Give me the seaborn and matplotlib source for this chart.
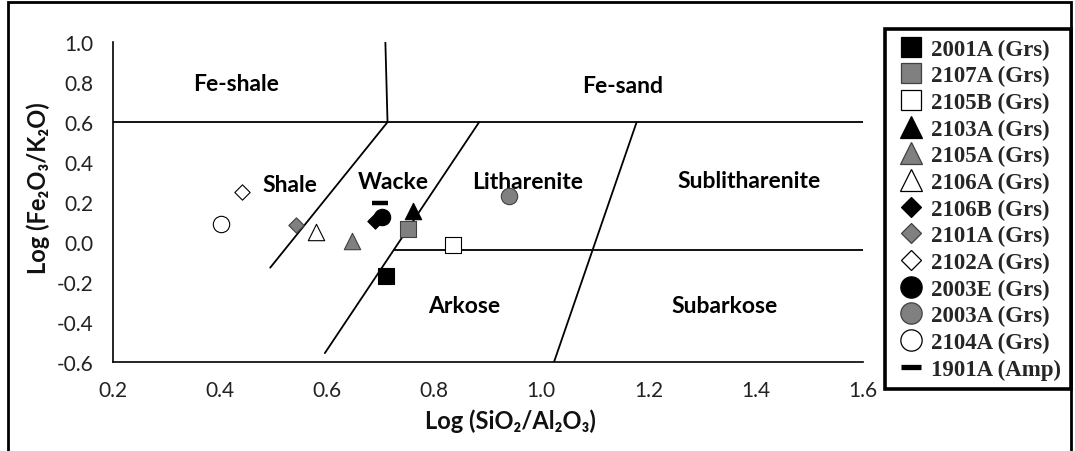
import matplotlib
matplotlib.use("Agg")
import matplotlib.pyplot as plt
import seaborn as sns
from matplotlib.lines import Line2D
from matplotlib.patches import Rectangle

# ---------------- data ----------------
samples = ["2001A (Grs)", "2107A (Grs)", "2105B (Grs)", "2103A (Grs)", "2105A (Grs)",
           "2106A (Grs)", "2106B (Grs)", "2101A (Grs)", "2102A (Grs)", "2003E (Grs)",
           "2003A (Grs)", "2104A (Grs)", "1901A (Amp)"]
log_si_al = [0.711, 0.752, 0.835, 0.761, 0.646, 0.580, 0.690, 0.543, 0.441, 0.702, 0.939, 0.402, 0.699]
log_fe_k = [-0.169, 0.065, -0.014, 0.156, 0.006, 0.051, 0.106, 0.086, 0.248, 0.123, 0.230, 0.090, 0.193]

# classification field boundaries (Herron diagram)
boundary_x = [[0.2, 1.6], [0.709, 0.713], [0.713, 0.494], [0.884, 0.596], [0.725, 1.6], [1.178, 1.024]]
boundary_y = [[0.6, 0.6], [1.0, 0.6], [0.6, -0.129], [0.6, -0.557], [-0.04, -0.04], [0.6, -0.6]]

field_names = ["Fe-shale", "Fe-sand", "Shale", "Wacke", "Litharenite", "Sublitharenite", "Arkose", "Subarkose"]
field_x = [0.430, 1.152, 0.531, 0.724, 0.975, 1.388, 0.856, 1.343]
field_y = [0.796, 0.786, 0.290, 0.302, 0.302, 0.310, -0.320, -0.320]

x_ticks = [0.2, 0.4, 0.6, 0.8, 1.0, 1.2, 1.4, 1.6]
y_ticks = [-0.6, -0.4, -0.2, 0.0, 0.2, 0.4, 0.6, 0.8, 1.0]

# ---------------- styles ----------------
GRAY = "#808080"
marker_style = ["s", "s", "s", "^", "^", "^", "D", "D", "D", "o", "o", "o", "_"]
face_col = ["black", GRAY, "white", "black", GRAY, "white", "black", GRAY, "white", "black", GRAY, "white", "black"]
edge_col = ["black", "#404040", "black", "black", "#404040", "black", "black", "#404040", "black", "black", "#404040", "black", "black"]
msize = {"s": 11.2, "^": 11.8, "D": 7.8, "o": 11.8, "_": 12.0}

sns.set_theme(style="white")
plt.rcParams["font.family"] = ["Lato", "Noto Sans", "DejaVu Sans"]
plt.rcParams["axes.unicode_minus"] = False

fig = plt.figure(figsize=(10.75, 4.52), dpi=100)
ax = fig.add_axes([112.7 / 1075, 1 - 362.7 / 452, 750 / 1075, 319.4 / 452])

for bx, by in zip(boundary_x, boundary_y):
    sns.lineplot(x=bx, y=by, ax=ax, color="black", linewidth=1.3, sort=False, estimator=None)

for i, name in enumerate(samples):
    m = marker_style[i]
    if m == "_":
        sns.scatterplot(x=[log_si_al[i]], y=[log_fe_k[i]], ax=ax, marker=m, s=msize[m] ** 2,
                        color="black", linewidth=3.2, zorder=5)
    else:
        sns.scatterplot(x=[log_si_al[i]], y=[log_fe_k[i]], ax=ax, marker=m, s=msize[m] ** 2,
                        color=face_col[i], edgecolor=edge_col[i], linewidth=0.8, zorder=5)

for name, fx, fy in zip(field_names, field_x, field_y):
    ax.text(fx, fy, name, ha="center", va="center", fontsize=16.5, fontweight="bold", color="black")

ax.set_xlim(0.2, 1.6)
ax.set_ylim(-0.6, 1.0)
ax.set_xticks(x_ticks)
ax.set_yticks(y_ticks)
ax.set_xticklabels([f"{v:.1f}" for v in x_ticks])
ax.set_yticklabels([f"{v:.1f}" for v in y_ticks])
ax.tick_params(axis="both", direction="out", length=5, width=1.2, colors="black",
               labelsize=15, labelcolor="#222222", pad=9)
ax.tick_params(axis="x", pad=8)
for side in ["top", "right"]:
    ax.spines[side].set_visible(False)
for side in ["left", "bottom"]:
    ax.spines[side].set_color("black")
    ax.spines[side].set_linewidth(1.2)

ax.set_xlabel("Log (SiO\u2082/Al\u2082O\u2083)", fontsize=17, fontweight="bold", color="#111111")
ax.set_ylabel("Log (Fe\u2082O\u2083/K\u2082O)", fontsize=17, fontweight="bold", color="#111111")
ax.xaxis.set_label_coords(0.53, -0.145)
ax.yaxis.set_label_coords(-0.083, 0.547)

# legend
handles = []
for i, name in enumerate(samples):
    m = marker_style[i]
    if m == "_":
        h = Line2D([], [], linestyle="none", marker=m, markersize=msize[m] * 1.25,
                   color="black", markeredgewidth=3.8)
    else:
        h = Line2D([], [], linestyle="none", marker=m, markersize=msize[m] * 1.3,
                   markerfacecolor=face_col[i], markeredgecolor=edge_col[i], markeredgewidth=0.9)
    handles.append(h)

leg = fig.legend(handles, samples, loc="upper left", bbox_to_anchor=(885 / 1075, 1 - 30 / 452),
                 borderaxespad=0, frameon=True, fancybox=False, shadow=False, framealpha=1,
                 prop={"family": "Liberation Serif", "weight": "bold", "size": 16.5},
                 borderpad=0.42, labelspacing=0.24, handlelength=1.45, handletextpad=0.15)
leg.get_frame().set_edgecolor("black")
leg.get_frame().set_linewidth(2.6)

# outer chart border
fig.patches.append(Rectangle((8 / 1075, -0.05), (1071 - 8) / 1075, 1.05 - 3 / 452,
                             transform=fig.transFigure, fill=False, edgecolor="black",
                             linewidth=2.0, zorder=0))

fig.savefig("out.png", dpi=100)
